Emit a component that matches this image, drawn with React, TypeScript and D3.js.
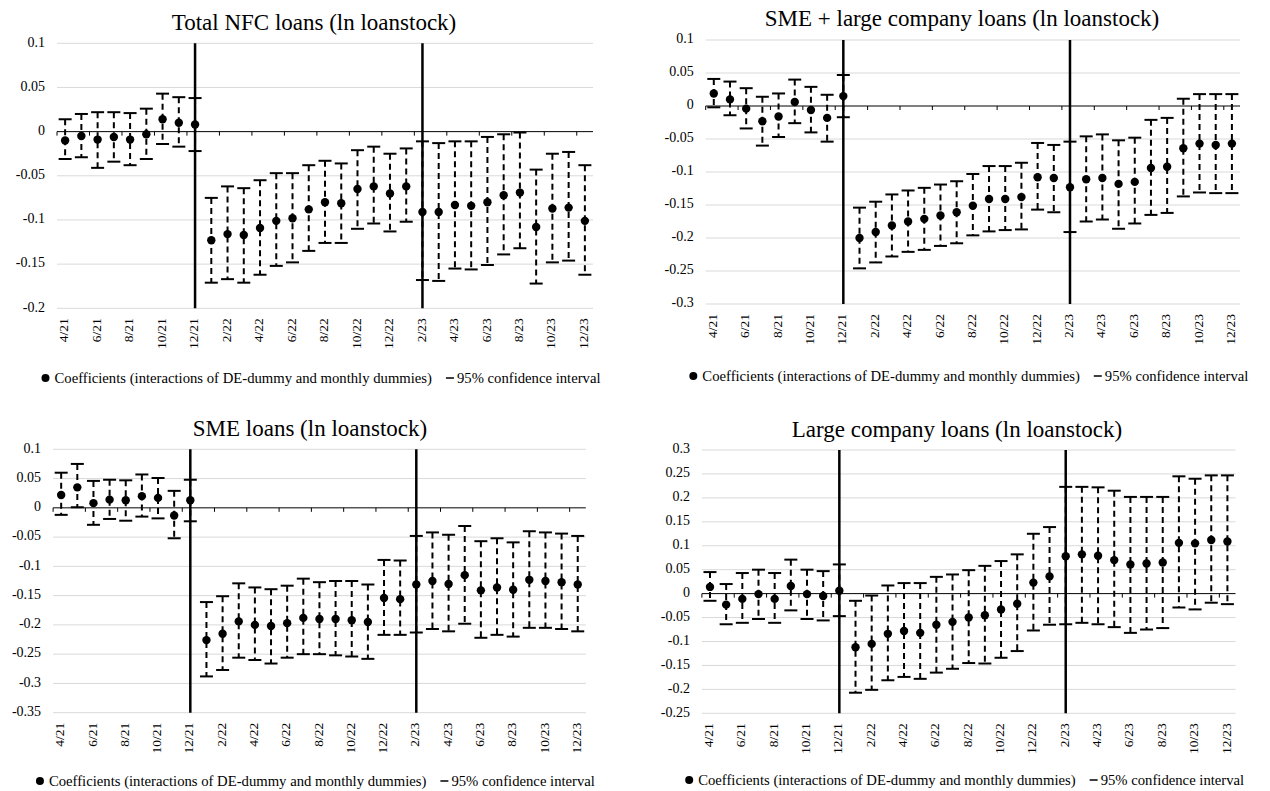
import React, { useEffect, useRef } from 'react';
import * as d3 from 'd3';

// monthly categories, April 2021 – December 2023
const months = [
  '4/21', '5/21', '6/21', '7/21', '8/21', '9/21', '10/21', '11/21', '12/21',
  '1/22', '2/22', '3/22', '4/22', '5/22', '6/22', '7/22', '8/22', '9/22', '10/22', '11/22', '12/22',
  '1/23', '2/23', '3/23', '4/23', '5/23', '6/23', '7/23', '8/23', '9/23', '10/23', '11/23', '12/23'
];
const markerMonths = ['12/21', '2/23'];

// Total NFC loans
const nfcCoef = [-0.010, -0.005, -0.009, -0.006, -0.009, -0.003, 0.014, 0.010, 0.008, -0.123, -0.116, -0.117, -0.109, -0.101, -0.098, -0.088, -0.080, -0.081, -0.065, -0.062, -0.070, -0.062, -0.091, -0.091, -0.083, -0.084, -0.080, -0.072, -0.069, -0.108, -0.087, -0.086, -0.101];
const nfcHigh = [0.014, 0.020, 0.022, 0.022, 0.021, 0.026, 0.043, 0.039, 0.038, -0.075, -0.062, -0.064, -0.055, -0.047, -0.047, -0.038, -0.033, -0.036, -0.021, -0.017, -0.025, -0.019, -0.011, -0.013, -0.011, -0.011, -0.006, -0.003, -0.001, -0.043, -0.025, -0.023, -0.038];
const nfcLow = [-0.031, -0.029, -0.041, -0.034, -0.038, -0.031, -0.014, -0.017, -0.022, -0.171, -0.167, -0.171, -0.162, -0.152, -0.148, -0.135, -0.126, -0.126, -0.110, -0.104, -0.113, -0.102, -0.168, -0.169, -0.155, -0.156, -0.151, -0.139, -0.132, -0.172, -0.148, -0.146, -0.162];
const nfcTicks = [0.1, 0.05, 0, -0.05, -0.1, -0.15, -0.2];

// SME + large company loans
const allCoef = [0.019, 0.010, -0.004, -0.023, -0.016, 0.006, -0.006, -0.018, 0.015, -0.200, -0.191, -0.181, -0.175, -0.171, -0.166, -0.161, -0.151, -0.141, -0.141, -0.138, -0.108, -0.109, -0.123, -0.111, -0.109, -0.118, -0.115, -0.094, -0.092, -0.064, -0.057, -0.059, -0.057];
const allHigh = [0.041, 0.037, 0.027, 0.014, 0.019, 0.040, 0.029, 0.017, 0.047, -0.154, -0.145, -0.134, -0.128, -0.124, -0.119, -0.114, -0.103, -0.091, -0.091, -0.086, -0.056, -0.059, -0.054, -0.046, -0.043, -0.052, -0.048, -0.021, -0.018, 0.011, 0.018, 0.018, 0.018];
const allLow = [-0.002, -0.014, -0.034, -0.060, -0.047, -0.026, -0.040, -0.054, -0.017, -0.246, -0.237, -0.228, -0.221, -0.218, -0.212, -0.208, -0.196, -0.190, -0.188, -0.187, -0.157, -0.161, -0.191, -0.175, -0.172, -0.186, -0.178, -0.165, -0.162, -0.137, -0.131, -0.132, -0.132];
const allTicks = [0.1, 0.05, 0, -0.05, -0.1, -0.15, -0.2, -0.25, -0.3];

// SME loans
const smeCoef = [0.022, 0.035, 0.008, 0.014, 0.013, 0.020, 0.017, -0.013, 0.013, -0.226, -0.215, -0.194, -0.200, -0.202, -0.197, -0.188, -0.190, -0.190, -0.192, -0.195, -0.154, -0.156, -0.131, -0.125, -0.130, -0.115, -0.141, -0.136, -0.140, -0.123, -0.125, -0.127, -0.131];
const smeHigh = [0.060, 0.075, 0.046, 0.048, 0.047, 0.057, 0.051, 0.029, 0.048, -0.161, -0.151, -0.129, -0.136, -0.139, -0.133, -0.121, -0.127, -0.125, -0.125, -0.131, -0.089, -0.090, -0.048, -0.042, -0.046, -0.031, -0.057, -0.052, -0.059, -0.040, -0.042, -0.044, -0.048];
const smeLow = [-0.012, 0.001, -0.029, -0.019, -0.022, -0.015, -0.018, -0.052, -0.023, -0.288, -0.277, -0.256, -0.260, -0.266, -0.256, -0.250, -0.250, -0.252, -0.254, -0.258, -0.217, -0.217, -0.213, -0.207, -0.211, -0.198, -0.222, -0.217, -0.220, -0.205, -0.205, -0.207, -0.211];
const smeTicks = [0.1, 0.05, 0, -0.05, -0.1, -0.15, -0.2, -0.25, -0.3, -0.35];

// Large company loans
const largeCoef = [0.014, -0.023, -0.011, -0.001, -0.011, 0.016, -0.001, -0.005, 0.006, -0.112, -0.105, -0.084, -0.078, -0.082, -0.065, -0.059, -0.050, -0.045, -0.033, -0.021, 0.023, 0.036, 0.078, 0.082, 0.079, 0.070, 0.061, 0.063, 0.065, 0.106, 0.105, 0.112, 0.109];
const largeHigh = [0.045, 0.020, 0.043, 0.050, 0.043, 0.071, 0.050, 0.047, 0.061, -0.015, -0.004, 0.017, 0.022, 0.022, 0.035, 0.040, 0.049, 0.058, 0.068, 0.082, 0.125, 0.139, 0.223, 0.223, 0.222, 0.215, 0.202, 0.202, 0.202, 0.245, 0.240, 0.247, 0.247];
const largeLow = [-0.015, -0.064, -0.061, -0.053, -0.061, -0.035, -0.053, -0.056, -0.047, -0.207, -0.201, -0.181, -0.174, -0.178, -0.165, -0.157, -0.145, -0.146, -0.134, -0.120, -0.077, -0.065, -0.064, -0.061, -0.064, -0.070, -0.082, -0.075, -0.072, -0.029, -0.033, -0.019, -0.022];
const largeTicks = [0.3, 0.25, 0.2, 0.15, 0.1, 0.05, 0, -0.05, -0.1, -0.15, -0.2, -0.25];

const legendCoef = 'Coefficients (interactions of DE-dummy and monthly dummies)';
const legendCI = '95% confidence interval';

const panels = [
  { title: 'Total NFC loans (ln loanstock)', coef: nfcCoef, hi: nfcHigh, lo: nfcLow, ticks: nfcTicks,
    left: 57, right: 593, top: 43.3, bottom: 308.3, titleX: 314, titleY: 30, legendY: 383 },
  { title: 'SME + large company loans (ln loanstock)', coef: allCoef, hi: allHigh, lo: allLow, ticks: allTicks,
    left: 705.7, right: 1240, top: 40, bottom: 304, titleX: 962, titleY: 26, legendY: 381 },
  { title: 'SME loans (ln loanstock)', coef: smeCoef, hi: smeHigh, lo: smeLow, ticks: smeTicks,
    left: 53.1, right: 585.8, top: 449.3, bottom: 712.7, titleX: 310, titleY: 436, legendY: 786 },
  { title: 'Large company loans (ln loanstock)', coef: largeCoef, hi: largeHigh, lo: largeLow, ticks: largeTicks,
    left: 701.9, right: 1235.5, top: 450, bottom: 713.3, titleX: 957, titleY: 436.5, legendY: 785 }
];

const FONT = "'Liberation Serif', 'Times New Roman', serif";
const fmt = (v: number) => String(+v.toFixed(2));

export default function App() {
  const chartRef = useRef<SVGSVGElement>(null);

  useEffect(() => {
    const svg = d3.select(chartRef.current);
    svg.selectAll('*').remove();

    panels.forEach(p => {
      const g = svg.append('g');
      const x = d3.scaleBand().domain(months).range([p.left, p.right]);
      const cx = (m: string) => (x(m) as number) + x.bandwidth() / 2;
      const y = d3.scaleLinear()
        .domain([d3.min(p.ticks) as number, d3.max(p.ticks) as number])
        .range([p.bottom, p.top]);

      // gridlines
      g.selectAll('line.grid').data(p.ticks.filter(t => t !== 0)).join('line')
        .attr('x1', p.left).attr('x2', p.right)
        .attr('y1', d => y(d)).attr('y2', d => y(d))
        .attr('stroke', '#d9d9d9').attr('stroke-width', 1);

      // y labels
      g.selectAll('text.ylab').data(p.ticks).join('text')
        .attr('x', p.left - 12).attr('y', d => y(d))
        .attr('text-anchor', 'end').attr('dominant-baseline', 'middle')
        .attr('font-family', FONT).attr('font-size', 14).attr('fill', '#000')
        .text(d => fmt(d));

      // zero axis with ticks every second month
      g.append('line')
        .attr('x1', p.left).attr('x2', p.right)
        .attr('y1', y(0)).attr('y2', y(0))
        .attr('stroke', '#000').attr('stroke-width', 1);
      g.selectAll('line.tick').data(months.filter((_, i) => i % 2 === 0)).join('line')
        .attr('x1', d => x(d) as number).attr('x2', d => x(d) as number)
        .attr('y1', y(0)).attr('y2', y(0) + 4)
        .attr('stroke', '#000').attr('stroke-width', 1);

      // vertical marker lines
      g.selectAll('line.mark').data(markerMonths).join('line')
        .attr('x1', d => cx(d)).attr('x2', d => cx(d))
        .attr('y1', p.top).attr('y2', p.bottom)
        .attr('stroke', '#000').attr('stroke-width', 2.5);

      // confidence intervals
      const idx = d3.range(months.length);
      g.selectAll('line.ci').data(idx).join('line')
        .attr('x1', i => cx(months[i])).attr('x2', i => cx(months[i]))
        .attr('y1', i => y(p.hi[i])).attr('y2', i => y(p.lo[i]))
        .attr('stroke', '#000').attr('stroke-width', 2).attr('stroke-dasharray', '6,4');
      [p.hi, p.lo].forEach(arr => {
        g.append('g').selectAll('line').data(idx).join('line')
          .attr('x1', i => cx(months[i]) - 6.5).attr('x2', i => cx(months[i]) + 6.5)
          .attr('y1', i => y(arr[i])).attr('y2', i => y(arr[i]))
          .attr('stroke', '#000').attr('stroke-width', 2);
      });

      // coefficients
      g.selectAll('circle.pt').data(idx).join('circle')
        .attr('cx', i => cx(months[i])).attr('cy', i => y(p.coef[i]))
        .attr('r', 4.2).attr('fill', '#000');

      // x labels
      g.selectAll('text.xlab').data(months.filter((_, i) => i % 2 === 0)).join('text')
        .attr('transform', d => `translate(${cx(d)},${p.bottom + 10}) rotate(-90)`)
        .attr('text-anchor', 'end').attr('dominant-baseline', 'middle')
        .attr('font-family', FONT).attr('font-size', 13.5).attr('fill', '#000')
        .text(d => d);

      // title
      g.append('text')
        .attr('x', p.titleX).attr('y', p.titleY)
        .attr('text-anchor', 'middle')
        .attr('font-family', FONT).attr('font-size', 23).attr('fill', '#000')
        .text(p.title);

      // legend
      const lg = g.append('g');
      const t1 = lg.append('text')
        .attr('x', 9).attr('y', 0)
        .attr('font-family', FONT).attr('font-size', 14.7).attr('fill', '#000')
        .text(legendCoef);
      const w1 = (t1.node() as SVGTextElement).getComputedTextLength();
      lg.append('circle').attr('cx', 0).attr('cy', -5).attr('r', 4).attr('fill', '#000');
      const mx = 9 + w1 + 14;
      lg.append('line')
        .attr('x1', mx).attr('x2', mx + 8).attr('y1', -5).attr('y2', -5)
        .attr('stroke', '#000').attr('stroke-width', 1.5);
      const t2 = lg.append('text')
        .attr('x', mx + 11).attr('y', 0)
        .attr('font-family', FONT).attr('font-size', 14.7).attr('fill', '#000')
        .text(legendCI);
      const total = mx + 11 + (t2.node() as SVGTextElement).getComputedTextLength() + 4;
      const center = (p.left + p.right) / 2;
      lg.attr('transform', `translate(${center - total / 2},${p.legendY})`);
    });
  }, []);

  return (
    <svg ref={chartRef} width={1270} height={791}
      style={{ position: 'absolute', left: 0, top: 0, background: '#fff' }} />
  );
}
